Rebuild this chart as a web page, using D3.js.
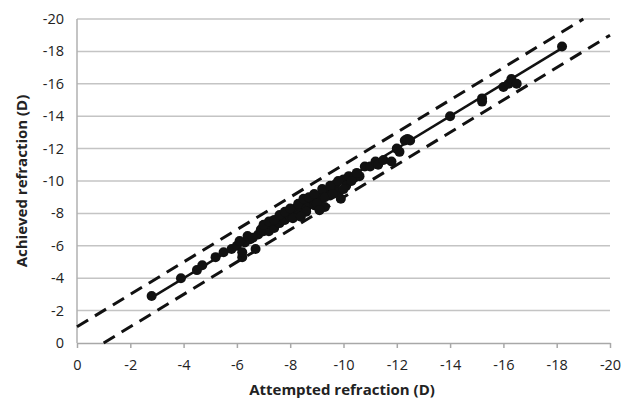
<!DOCTYPE html>
<html>
<head>
<meta charset="utf-8">
<script src="https://cdn.jsdelivr.net/npm/d3@7"></script>
<style>
  body { margin: 0; background: #fff; }
  svg { display: block; }
  text { font-family: "Open Sans", "DejaVu Sans", sans-serif; }
</style>
</head>
<body>
<svg id="chart" width="633" height="398"></svg>
<script>
// attempted (x) and achieved (y) refraction, dioptres
const attempted = [-2.8, -3.9, -4.5, -4.7, -5.2, -5.5, -5.8, -6.0, -6.2, -6.2, -6.3, -6.5, -6.7, -6.8,
  -7.0, -7.1, -7.2, -7.3, -7.4, -7.5, -7.6, -7.7, -7.8, -7.9, -8.0, -8.1, -8.2, -8.3, -8.4, -8.5,
  -8.6, -8.7, -8.8, -8.9, -9.0, -9.1, -9.2, -9.3, -9.4, -9.5, -9.6, -9.7, -9.8, -9.9, -10.0, -10.1,
  -10.2, -10.4, -10.6, -10.8, -11.0, -11.2, -11.3, -11.5, -11.8, -12.0, -12.1, -12.3, -12.4, -12.5,
  -14.0, -15.2, -15.2, -16.0, -16.2, -16.3, -16.5, -18.2,
  -6.1, -6.4, -6.6, -6.9, -7.0, -7.2, -7.4, -7.6, -7.8, -8.0, -8.1, -8.3, -8.5, -8.6, -8.7, -8.9,
  -9.0, -9.2, -9.3, -9.5, -9.6, -9.8, -10.0, -10.3, -10.5, -9.1, -8.4];
const achieved = [-2.9, -4.0, -4.5, -4.8, -5.3, -5.6, -5.8, -6.0, -5.3, -5.6, -6.2, -6.4, -5.8, -6.7,
  -6.9, -7.2, -6.9, -7.3, -7.1, -7.5, -7.4, -7.8, -7.6, -8.0, -7.8, -8.1, -8.3, -7.9, -8.4, -8.6,
  -8.3, -8.7, -8.9, -8.5, -9.0, -8.7, -9.2, -8.4, -9.4, -9.1, -9.6, -9.8, -9.3, -8.9, -10.1, -9.7,
  -10.3, -10.2, -10.3, -10.9, -10.9, -11.2, -11.0, -11.3, -11.2, -12.0, -11.8, -12.5, -12.6, -12.5,
  -14.0, -15.1, -14.9, -15.8, -16.0, -16.3, -16.0, -18.3,
  -6.3, -6.6, -6.5, -7.0, -7.3, -7.5, -7.6, -7.9, -8.1, -8.3, -7.7, -8.6, -8.9, -8.1, -9.0, -9.2,
  -8.6, -9.5, -9.0, -9.7, -9.2, -10.0, -9.5, -10.0, -10.5, -8.2, -7.8];
const ticks = [0, -2, -4, -6, -8, -10, -12, -14, -16, -18, -20];
// identity line and +/-1 D limits
const fitRange = [-2.8, -18.2];
const upperLimit = [[0, -1], [-19, -20]];
const lowerLimit = [[-1, 0], [-20, -19]];

const svg = d3.select("#chart");
const x = d3.scaleLinear().domain([0, -20]).range([77, 610]);
const y = d3.scaleLinear().domain([0, -20]).range([343, 19]);

// gridlines
svg.append("g")
  .selectAll("line")
  .data(ticks.slice(1))
  .enter()
  .append("line")
  .attr("x1", x(0)).attr("x2", x(-20))
  .attr("y1", d => y(d)).attr("y2", d => y(d))
  .attr("stroke", "#c4c4c4")
  .attr("stroke-width", 1.5);

// y axis line
svg.append("line")
  .attr("x1", x(0)).attr("x2", x(0))
  .attr("y1", y(0)).attr("y2", y(-20))
  .attr("stroke", "#b0b0b0").attr("stroke-width", 1.5);

// x axis with ticks
const xAxis = svg.append("g")
  .attr("transform", `translate(0,${y(0)})`)
  .call(d3.axisBottom(x).tickValues(ticks).tickFormat(d => String(d)).tickSize(5).tickSizeOuter(0).tickPadding(12));
xAxis.select(".domain").attr("stroke", "#a8a8a8").attr("stroke-width", 1.5);
xAxis.selectAll(".tick line").attr("stroke", "#a8a8a8").attr("stroke-width", 1.5);
xAxis.selectAll("text").attr("font-size", 14.5).attr("fill", "#222").style("font-family", "Open Sans");

// y tick labels
svg.append("g")
  .selectAll("text")
  .data(ticks)
  .enter()
  .append("text")
  .attr("x", 64)
  .attr("y", d => y(d))
  .attr("dy", "0.35em")
  .attr("text-anchor", "end")
  .attr("font-size", 14.5)
  .attr("fill", "#222")
  .text(d => d);

const line = d3.line().x(d => x(d[0])).y(d => y(d[1]));

// dashed limit lines
[upperLimit, lowerLimit].forEach(l => {
  svg.append("path")
    .attr("d", line(l))
    .attr("fill", "none")
    .attr("stroke", "#111")
    .attr("stroke-width", 3)
    .attr("stroke-dasharray", "13,8");
});

// solid identity line
svg.append("path")
  .attr("d", line(fitRange.map(v => [v, v])))
  .attr("fill", "none")
  .attr("stroke", "#111")
  .attr("stroke-width", 2.5);

// points
svg.append("g")
  .selectAll("circle")
  .data(attempted.map((a, i) => [a, achieved[i]]))
  .enter()
  .append("circle")
  .attr("cx", d => x(d[0]))
  .attr("cy", d => y(d[1]))
  .attr("r", 5)
  .attr("fill", "#111");

// axis titles
svg.append("text")
  .attr("x", 342).attr("y", 395)
  .attr("text-anchor", "middle")
  .attr("font-size", 15).attr("font-weight", "bold").attr("fill", "#222")
  .text("Attempted refraction (D)");

svg.append("text")
  .attr("transform", "translate(22,181) rotate(-90)")
  .attr("dy", "0.35em")
  .attr("text-anchor", "middle")
  .attr("font-size", 15).attr("font-weight", "bold").attr("fill", "#222")
  .text("Achieved  refraction (D)");
</script>
</body>
</html>
